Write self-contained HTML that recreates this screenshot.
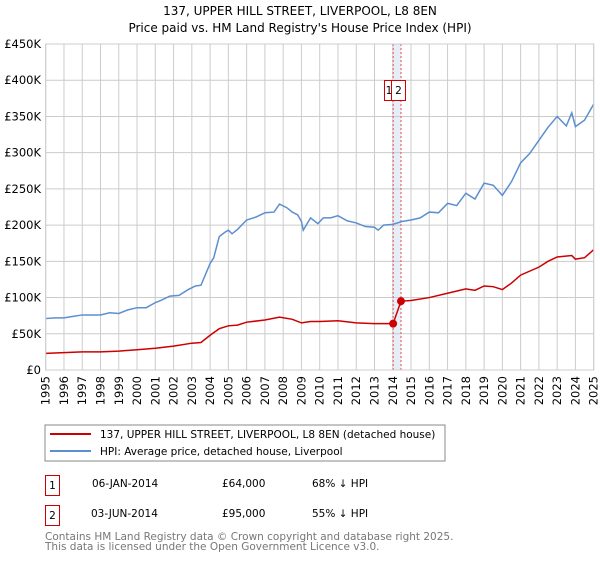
<!DOCTYPE html>
<html><head><meta charset="utf-8"><style>
body{margin:0;background:#fff;font-family:"DejaVu Sans","Liberation Sans",sans-serif}
svg text{font-family:"DejaVu Sans","Liberation Sans",sans-serif}
</style></head><body>
<svg id="c" width="600" height="560" xmlns="http://www.w3.org/2000/svg">
<text x="300" y="15" text-anchor="middle" font-size="12">137, UPPER HILL STREET, LIVERPOOL, L8 8EN</text>
<text x="300" y="32" text-anchor="middle" font-size="12">Price paid vs. HM Land Registry's House Price Index (HPI)</text>
<g id="grid"></g><g id="marks"></g><g id="axes"></g>
<rect x="45" y="425" width="400" height="36" fill="none" stroke="#888"/>
<line x1="50" y1="434" x2="91" y2="434" stroke="#cc0000" stroke-width="2"/>
<text x="100" y="438" font-size="10.5">137, UPPER HILL STREET, LIVERPOOL, L8 8EN (detached house)</text>
<line x1="50" y1="451" x2="91" y2="451" stroke="#5b8fd0" stroke-width="2"/>
<text x="100" y="455" font-size="10.5">HPI: Average price, detached house, Liverpool</text>
<g>
<rect x="45.5" y="475.5" width="14" height="20" fill="none" stroke="#cc0000"/>
<text x="52.5" y="489" font-size="10.5" text-anchor="middle">1</text>
<text x="92" y="487" font-size="10.5">06-JAN-2014</text>
<text x="222" y="487" font-size="10.5">£64,000</text>
<text x="312" y="487" font-size="10.5">68% ↓ HPI</text></g>
<g>
<rect x="45.5" y="505.5" width="14" height="20" fill="none" stroke="#cc0000"/>
<text x="52.5" y="519" font-size="10.5" text-anchor="middle">2</text>
<text x="91" y="517" font-size="10.5">03-JUN-2014</text>
<text x="222" y="517" font-size="10.5">£95,000</text>
<text x="312" y="517" font-size="10.5">55% ↓ HPI</text></g>
<text x="45" y="540" font-size="10.5" fill="#777">Contains HM Land Registry data © Crown copyright and database right 2025.</text>
<text x="45" y="550" font-size="10.5" fill="#777">This data is licensed under the Open Government Licence v3.0.</text>
</svg>
<script>
const hpiYears=[1995,1995.5,1996,1996.5,1997,1997.5,1998,1998.5,1999,1999.5,2000,2000.5,2001,2001.3,2001.8,2002.3,2002.8,2003.2,2003.5,2003.8,2004,2004.2,2004.5,2004.8,2005,2005.2,2005.5,2006,2006.5,2007,2007.5,2007.8,2008.2,2008.5,2008.8,2009,2009.1,2009.5,2009.9,2010.2,2010.6,2011,2011.5,2012,2012.5,2013,2013.2,2013.5,2014,2014.5,2015,2015.5,2016,2016.5,2017,2017.5,2018,2018.5,2019,2019.5,2020,2020.5,2021,2021.5,2022,2022.5,2023,2023.5,2023.8,2024,2024.5,2025];
const hpiValues=[71,72,72,74,76,76,76,79,78,83,86,86,93,96,102,103,111,116,117,135,147,155,184,190,193,188,194,207,211,217,218,229,224,218,214,205,193,210,202,210,210,213,206,203,198,197,193,200,201,205,207,210,218,217,230,227,244,236,258,255,241,260,286,299,317,335,350,337,355,336,345,367];
const priceYears=[1995,1996,1997,1998,1999,2000,2001,2002,2003,2003.5,2004,2004.5,2005,2005.5,2006,2007,2007.8,2008.5,2009,2009.5,2010,2011,2012,2013,2013.5,2014.02,2014.45,2015,2016,2017,2018,2018.5,2019,2019.5,2020,2020.5,2021,2022,2022.5,2023,2023.8,2024,2024.5,2025];
const priceValues=[23,24,25,25,26,28,30,33,37,38,48,57,61,62,66,69,73,70,65,67,67,68,65,64,64,64,95,96,100,106,112,110,116,115,111,120,131,142,150,156,158,153,155,166];
const sales=[{n:'1',year:2014.02,value:64},{n:'2',year:2014.45,value:95}];
const yTicks=[0,50,100,150,200,250,300,350,400,450];
const yLabels=['£0','£50K','£100K','£150K','£200K','£250K','£300K','£350K','£400K','£450K'];
const xTicks=[1995,1996,1997,1998,1999,2000,2001,2002,2003,2004,2005,2006,2007,2008,2009,2010,2011,2012,2013,2014,2015,2016,2017,2018,2019,2020,2021,2022,2023,2024,2025];
const X0=45.7,X1=593.7,Y0=370,Y1=44;
const xs=y=>X0+(y-1995)/30*(X1-X0);
const ys=v=>Y0-v/450*(Y0-Y1);
const NS='http://www.w3.org/2000/svg';
function mk(p,t,a){const e=document.createElementNS(NS,t);for(const k in a)e.setAttribute(k,a[k]);p.appendChild(e);return e;}
const grid=document.getElementById('grid'),marks=document.getElementById('marks'),axes=document.getElementById('axes');
const band=mk(grid,'rect',{x:xs(sales[0].year),y:Y1,width:xs(sales[1].year)-xs(sales[0].year),height:Y0-Y1,fill:'#e8eef8'});


yTicks.forEach((t,i)=>{
 const l=mk(grid,'line',{x1:X0,x2:X1,y1:ys(t),y2:ys(t),stroke:'#ccc'});
 
 
 const tx=mk(axes,'text',{x:41,y:ys(t)+4,'text-anchor':'end','font-size':'11.5'});
 tx.textContent=yLabels[i];
 
 
});
xTicks.forEach(t=>{
 const l=mk(grid,'line',{x1:xs(t),x2:xs(t),y1:Y1,y2:Y0,stroke:'#ccc'});
 
 
 const tx=mk(axes,'text',{x:0,y:0,'font-size':'11.5','text-anchor':'end',transform:`translate(${xs(t)+4},${Y0+6}) rotate(-90)`});
 tx.textContent=t;
 
 
});
const fr=mk(axes,'rect',{x:X0,y:Y1,width:X1-X0,height:Y0-Y1,fill:'none',stroke:'#ccc'});


sales.forEach(s=>{
 const l=mk(marks,'line',{x1:xs(s.year),x2:xs(s.year),y1:Y1,y2:Y0,stroke:'#e05050','stroke-dasharray':'2,2'});
 
 
});
const hp=mk(marks,'polyline',{points:hpiYears.map((y,i)=>xs(y)+','+ys(hpiValues[i])).join(' '),fill:'none',stroke:'#5b8fd0','stroke-width':1.5});


const pp=mk(marks,'polyline',{points:priceYears.map((y,i)=>xs(y)+','+ys(priceValues[i])).join(' '),fill:'none',stroke:'#cc0000','stroke-width':1.5});


const b2x=xs(sales[1].year)-10;
sales.forEach((s,i)=>{
 const c=mk(marks,'circle',{cx:xs(s.year),cy:ys(s.value),r:4,fill:'#cc0000'});
 
 
 const rx=i==0?b2x-7:b2x, rw=i==0?7:14;
 const r=mk(marks,'rect',{x:rx+0.5,y:80.5,width:rw,height:20,fill:'#fff',stroke:'#cc0000'});
 
 
 const t=mk(marks,'text',{x:i==0?rx+5:rx+7.5,y:94,'font-size':'10.5','text-anchor':'middle'});
 t.textContent=s.n;
 
 
});
</script>
</body></html>
